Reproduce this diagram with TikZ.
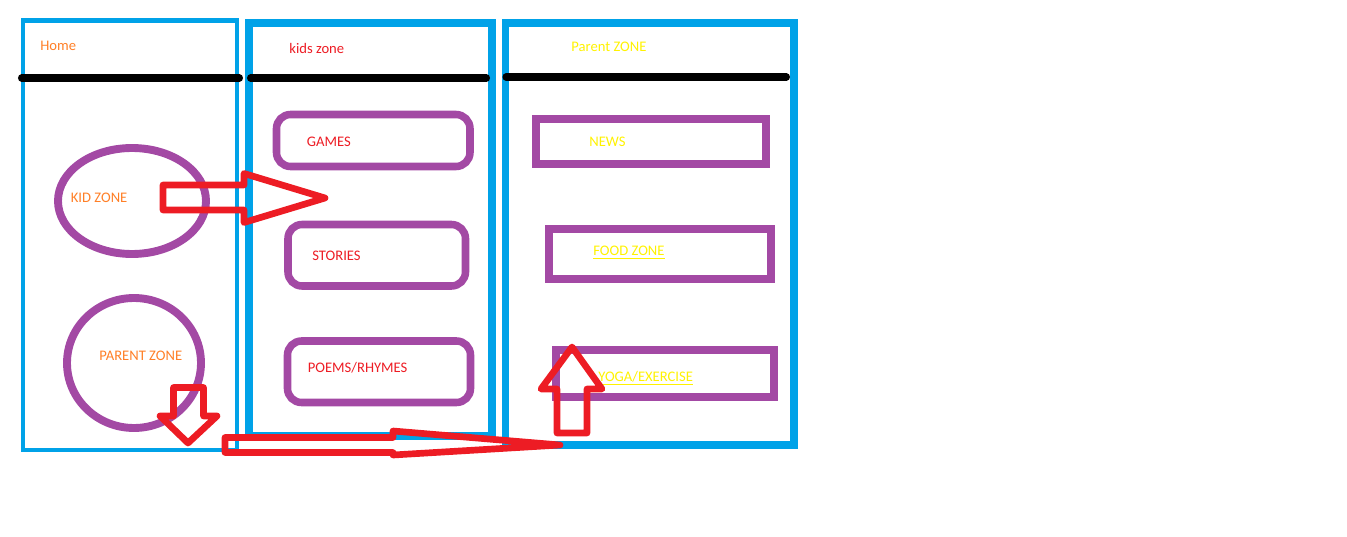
\documentclass[tikz,border=0pt]{standalone}
\usepackage{fontspec}
\setmainfont{Carlito}
\usepackage{tikz}
\usetikzlibrary{positioning}
\usepackage{xcolor}
\definecolor{paintblue}{HTML}{00A2E8}
\definecolor{paintpurple}{HTML}{A349A4}
\definecolor{paintred}{HTML}{ED1C24}
\definecolor{paintorange}{HTML}{FF7F27}
\definecolor{paintyellow}{HTML}{FFF200}
\tikzset{panel/.style={draw=paintblue, line width=4.2pt},
	divider/.style={draw=black, line width=4pt, line cap=round},
	zonering/.style={draw=paintpurple, line width=4.5pt},
	menubox/.style={draw=paintpurple, line width=4.3pt, rounded corners=8pt},
	pagebox/.style={draw=paintpurple, line width=4.5pt},
	bigarrow/.style={draw=paintred, line width=3.8pt, line join=round},
	zonelabel/.style={anchor=base west, inner sep=0pt, font=\fontsize{8.32pt}{10pt}\selectfont}}
\begin{document}
\begin{tikzpicture}[x=0.02cm,y=-0.02cm]
			\useasboundingbox (0,0) rectangle (1347,537);
			\draw[panel, line width=2.6pt] (23,20.5) rectangle (237,450);
			\draw[panel] (249,23) rectangle (492,436);
			\draw[panel] (505.5,23) rectangle (794,445);
			\draw[divider] (21.5,78) -- (239.5,78);
			\draw[divider] (250.5,78) -- (486.5,78);
			\draw[divider] (506,77) -- (786.5,77);
			\draw[zonering] (132,201) ellipse [x radius=74, y radius=53];
			\draw[zonering] (134,363) ellipse [x radius=67, y radius=65];
			\draw[menubox] (276.5,114.5) rectangle (470,166.5);
			\draw[menubox] (288,224.5) rectangle (465.5,286);
			\draw[menubox] (287.5,341) rectangle (470.5,402.5);
			\draw[pagebox] (536,119) rectangle (766,164);
			\draw[pagebox] (549,229) rectangle (771,279);
			\draw[pagebox] (556,350) rectangle (774,397);
			\node[zonelabel, text=paintorange] (home) at (40,51) {Home};
			\node[zonelabel, text=paintred] (kidshead) at (289,54) {kids zone};
			\node[zonelabel, text=paintyellow] (parenthead) at (571,51.5) {Parent ZONE};
			\node[zonelabel, text=paintorange] (kidzone) at (70.5,202.5) {KID ZONE};
			\node[zonelabel, text=paintorange] (parentzone) at (99,360.5) {PARENT ZONE};
			\node[zonelabel, text=paintred] (games) at (306.5,146.5) {GAMES};
			\node[zonelabel, text=paintred] (stories) at (312,260.5) {STORIES};
			\node[zonelabel, text=paintred] (poems) at (307.5,372.5) {POEMS/RHYMES};
			\node[zonelabel, text=paintyellow] (news) at (589,146.5) {NEWS};
			\node[zonelabel, text=paintyellow] (food) at (593,255.5) {\underline{FOOD ZONE}};
			\node[zonelabel, text=paintyellow] (yoga) at (598,381) {\underline{YOGA/EXERCISE}};
			% arrows
			\draw[bigarrow] (163,185) -- (244,185) -- (244,173.5) -- (325,198) -- (244,222.5) -- (244,210) -- (163,210) -- cycle;
			\draw[bigarrow] (173.5,387.5) -- (203.5,387.5) -- (203.5,416) -- (217,416) -- (188,443) -- (160,416) -- (173.5,416) -- cycle;
			\draw[bigarrow] (225,437.5) -- (393,437.5) -- (393,431) -- (560,445) -- (393,455) -- (393,452.5) -- (225,452.5) -- cycle;
			\draw[bigarrow] (557,433) -- (557,389) -- (541,389) -- (572,347) -- (602,389) -- (587,389) -- (587,433) -- cycle;
		\end{tikzpicture}
\end{document}
